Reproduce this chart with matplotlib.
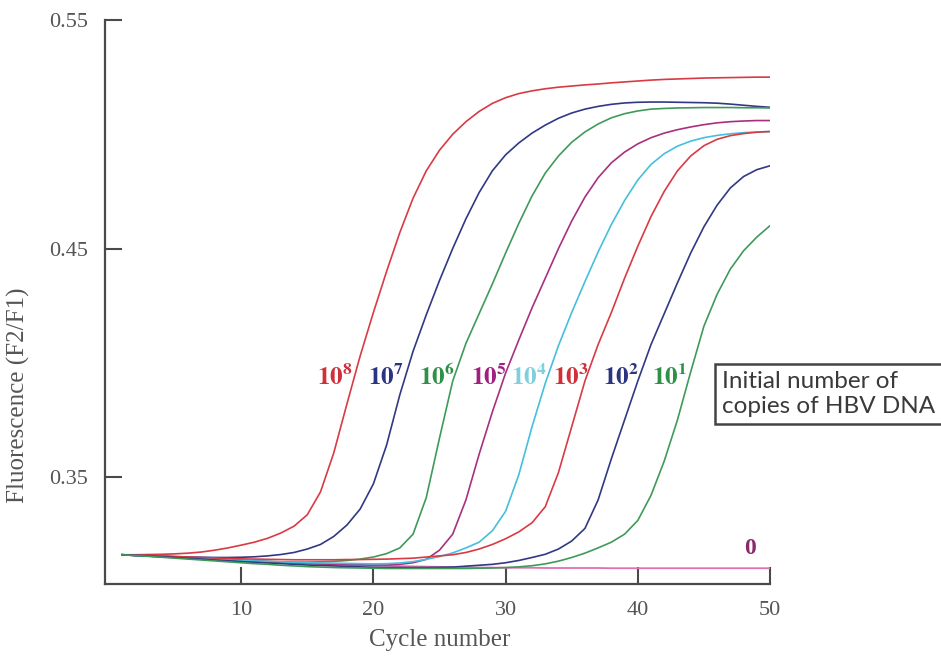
import numpy as np
import matplotlib
matplotlib.use("Agg")
import matplotlib.pyplot as plt

plt.rcParams['mathtext.fontset'] = 'stix'

# cycle numbers and fluorescence ratio (F2/F1)
cycles = list(range(1, 51))

f_1e8 = [0.3160, 0.3160, 0.3161, 0.3162, 0.3164, 0.3167, 0.3172, 0.3180, 0.3190, 0.3202,
         0.3215, 0.3232, 0.3255, 0.3285, 0.3335, 0.3435, 0.3605, 0.3820, 0.4030, 0.4220,
         0.4400, 0.4570, 0.4720, 0.4840, 0.4930, 0.5000, 0.5055, 0.5100, 0.5135, 0.5160,
         0.5178, 0.5190, 0.5199, 0.5206, 0.5211, 0.5216, 0.5220, 0.5225, 0.5229, 0.5233,
         0.5237, 0.5240, 0.5242, 0.5244, 0.5246, 0.5247, 0.5248, 0.5249, 0.5250, 0.5250]
f_1e7 = [0.3160, 0.3158, 0.3156, 0.3154, 0.3152, 0.3150, 0.3149, 0.3148, 0.3148, 0.3149,
         0.3151, 0.3155, 0.3161, 0.3170, 0.3185, 0.3205, 0.3240, 0.3290, 0.3360, 0.3470,
         0.3640, 0.3860, 0.4050, 0.4210, 0.4360, 0.4500, 0.4630, 0.4745, 0.4840, 0.4910,
         0.4962, 0.5005, 0.5040, 0.5070, 0.5093, 0.5110, 0.5122, 0.5131, 0.5137, 0.5140,
         0.5141, 0.5141, 0.5140, 0.5139, 0.5138, 0.5136, 0.5132, 0.5127, 0.5122, 0.5118]
f_1e6 = [0.3160, 0.3157, 0.3155, 0.3152, 0.3150, 0.3147, 0.3144, 0.3141, 0.3138, 0.3135,
         0.3133, 0.3131, 0.3129, 0.3128, 0.3128, 0.3129, 0.3131, 0.3135, 0.3141, 0.3150,
         0.3165, 0.3190, 0.3250, 0.3410, 0.3670, 0.3920, 0.4085, 0.4215, 0.4345, 0.4480,
         0.4610, 0.4730, 0.4830, 0.4905, 0.4965, 0.5010, 0.5045, 0.5072, 0.5090, 0.5102,
         0.5110, 0.5113, 0.5115, 0.5116, 0.5117, 0.5117, 0.5117, 0.5116, 0.5116, 0.5115]
f_1e5 = [0.3160, 0.3157, 0.3155, 0.3153, 0.3150, 0.3147, 0.3144, 0.3141, 0.3138, 0.3135,
         0.3132, 0.3130, 0.3127, 0.3125, 0.3122, 0.3120, 0.3118, 0.3117, 0.3116, 0.3115,
         0.3115, 0.3118, 0.3125, 0.3140, 0.3180, 0.3250, 0.3400, 0.3600, 0.3785, 0.3955,
         0.4100, 0.4240, 0.4370, 0.4500, 0.4620, 0.4725, 0.4810, 0.4875, 0.4922, 0.4958,
         0.4985, 0.5005, 0.5020, 0.5032, 0.5042, 0.5050, 0.5055, 0.5058, 0.5060, 0.5060]
f_1e4 = [0.3160, 0.3157, 0.3155, 0.3153, 0.3150, 0.3147, 0.3144, 0.3141, 0.3138, 0.3135,
         0.3133, 0.3131, 0.3129, 0.3127, 0.3125, 0.3124, 0.3123, 0.3122, 0.3121, 0.3120,
         0.3121, 0.3124, 0.3130, 0.3140, 0.3152, 0.3168, 0.3190, 0.3215, 0.3265, 0.3350,
         0.3510, 0.3720, 0.3910, 0.4075, 0.4220, 0.4355, 0.4485, 0.4605, 0.4710, 0.4800,
         0.4868, 0.4915, 0.4948, 0.4970, 0.4985, 0.4995, 0.5002, 0.5007, 0.5010, 0.5012]
f_1e3 = [0.3160, 0.3158, 0.3156, 0.3154, 0.3152, 0.3150, 0.3148, 0.3146, 0.3144, 0.3142,
         0.3141, 0.3140, 0.3139, 0.3138, 0.3138, 0.3138, 0.3138, 0.3139, 0.3139, 0.3140,
         0.3141, 0.3143, 0.3145, 0.3150, 0.3155, 0.3160, 0.3170, 0.3185, 0.3205, 0.3230,
         0.3260, 0.3300, 0.3370, 0.3520, 0.3720, 0.3920, 0.4080, 0.4220, 0.4370, 0.4510,
         0.4640, 0.4750, 0.4840, 0.4905, 0.4950, 0.4978, 0.4994, 0.5003, 0.5009, 0.5012]
f_1e2 = [0.3160, 0.3157, 0.3154, 0.3151, 0.3148, 0.3144, 0.3141, 0.3137, 0.3134, 0.3130,
         0.3127, 0.3124, 0.3121, 0.3118, 0.3115, 0.3113, 0.3111, 0.3109, 0.3107, 0.3105,
         0.3104, 0.3104, 0.3104, 0.3104, 0.3105, 0.3106, 0.3110, 0.3114, 0.3118, 0.3125,
         0.3135, 0.3148, 0.3162, 0.3185, 0.3220, 0.3275, 0.3400, 0.3580, 0.3750, 0.3920,
         0.4080, 0.4215, 0.4350, 0.4480, 0.4595, 0.4690, 0.4765, 0.4815, 0.4845, 0.4862]
f_1e1 = [0.3160, 0.3156, 0.3153, 0.3149, 0.3145, 0.3141, 0.3137, 0.3133, 0.3129, 0.3125,
         0.3121, 0.3118, 0.3114, 0.3111, 0.3108, 0.3106, 0.3104, 0.3103, 0.3102, 0.3101,
         0.3100, 0.3100, 0.3100, 0.3100, 0.3100, 0.3100, 0.3100, 0.3101, 0.3102, 0.3104,
         0.3107, 0.3112, 0.3120, 0.3132, 0.3148, 0.3167, 0.3190, 0.3215, 0.3250, 0.3310,
         0.3420, 0.3570, 0.3750, 0.3960, 0.4160, 0.4300, 0.4410, 0.4490, 0.4550, 0.4600]
f_0 = [0.3160, 0.3157, 0.3154, 0.3151, 0.3148, 0.3145, 0.3142, 0.3139, 0.3136, 0.3133,
       0.3130, 0.3128, 0.3126, 0.3124, 0.3122, 0.3120, 0.3118, 0.3116, 0.3114, 0.3112,
       0.3111, 0.3110, 0.3109, 0.3108, 0.3107, 0.3106, 0.3105, 0.3104, 0.3104, 0.3103,
       0.3103, 0.3103, 0.3102, 0.3102, 0.3102, 0.3102, 0.3102, 0.3101, 0.3101, 0.3101,
       0.3101, 0.3101, 0.3101, 0.3101, 0.3101, 0.3101, 0.3101, 0.3101, 0.3101, 0.3101]

series = [f_1e8, f_1e7, f_1e6, f_1e5, f_1e4, f_1e3, f_1e2, f_1e1]
exponents = ['8', '7', '6', '5', '4', '3', '2', '1']
label_cycle = [17.1, 20.95, 24.8, 28.7, 31.8, 34.9, 38.7, 42.4]
label_level = 0.3938
colors = ['#d93a44', '#313884', '#3f9a5a', '#a8307f', '#45bfdc',
          '#d93a44', '#313884', '#3f9a5a']
label_colors = ['#d0303a', '#2c3380', '#2f9148', '#a0207f', '#7fd0dc',
                '#d0303a', '#2c3380', '#2f9148']

x_ticks = [10, 20, 30, 40, 50]
y_ticks = [0.35, 0.45, 0.55]

W, H = 941, 660
fig = plt.figure(figsize=(W / 100, H / 100), dpi=100)
ax = fig.add_axes([105 / W, 1 - 584 / H, (770 - 105) / W, (584 - 20) / H])

ax.plot(cycles, f_0, color='#e070b0', lw=1.3)
for vals, c in zip(series, colors):
    ax.plot(cycles, vals, color=c, lw=1.2, solid_joinstyle='round')

for e, xc, lc in zip(exponents, label_cycle, label_colors):
    ax.text(xc, label_level, r'$\mathbf{10^{%s}}$' % e, color=lc, fontsize=18,
            ha='center', va='center')
ax.text(48.5, 0.3189, '0', color='#8b2a6b', fontsize=17, fontweight='bold',
        family='Liberation Serif', ha='center', va='center')

ax.set_xlim(-0.3, 50)
ax.set_ylim(0.3032, 0.55)
ax.set_xticks(x_ticks)
ax.set_yticks(y_ticks)
ax.set_yticklabels(['%.2f' % v for v in y_ticks])
for s in ['top', 'right']:
    ax.spines[s].set_visible(False)
for s in ['left', 'bottom']:
    ax.spines[s].set_color('#4a4a4a')
    ax.spines[s].set_linewidth(1.6)
ax.tick_params(direction='in', length=12, width=1.5, color='#4a4a4a',
               labelsize=16, labelcolor='#555555', pad=12)
for t in ax.get_xticklabels() + ax.get_yticklabels():
    t.set_family('Liberation Serif')

fig.text(18 / W, 1 - 395 / H, 'Fluorescence (F2/F1)', rotation=90, fontsize=18,
         color='#555555', family='Liberation Serif', ha='center', va='center')
fig.text(440 / W, 1 - 640 / H, 'Cycle number', fontsize=18,
         color='#555555', family='Liberation Serif', ha='center', va='center')

fig.text(722 / W, 1 - 394 / H, 'Initial number of\ncopies of HBV DNA', fontsize=17.5,
         color='#3a3a3a', family='Lato', ha='left', va='center', linespacing=1.2,
         bbox=dict(boxstyle='square,pad=0.3', fc='white', ec='#444444', lw=1.8))

fig.savefig('out.png', dpi=100)
